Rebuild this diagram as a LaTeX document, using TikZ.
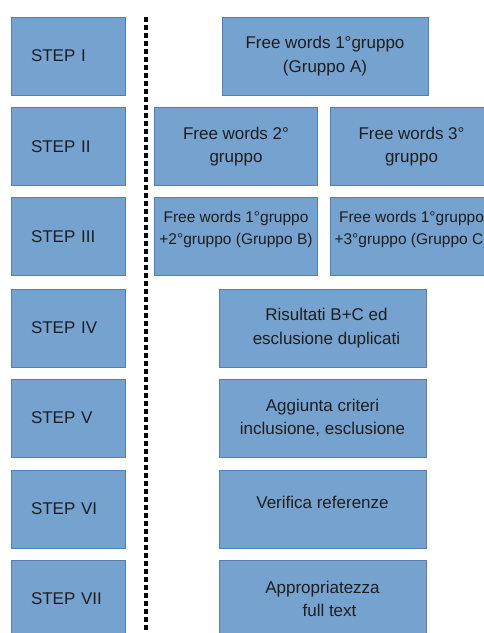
\documentclass[tikz,border=0pt]{standalone}
\usepackage{fontspec}
\setmainfont{Liberation Sans}
\definecolor{boxfill}{RGB}{117,162,207}
\definecolor{boxline}{RGB}{80,128,186}
\definecolor{boxtext}{RGB}{30,30,30}

\begin{document}
\begin{tikzpicture}[x=1pt, y=-1pt,
        every node/.style={draw=boxline, fill=boxfill, text=boxtext, line width=0.8pt, inner sep=0pt,
          minimum height=78pt, align=center, font=\fontsize{17}{23.5}\selectfont},
        stepnode/.style={minimum width=114pt, text width=74pt, align=left},
        widebox/.style={minimum width=207pt},
        halfbox/.style={minimum width=163pt},
        smalltext/.style={font=\fontsize{15.5}{22}\selectfont},
        textup/.style={text depth=#1}
      ]
      \useasboundingbox (0,0) rectangle (484,633);

      % steps on the left
      \node[stepnode] (s1) at (68,56)    {STEP I};
      \node[stepnode] (s2) at (68,146.5) {STEP II};
      \node[stepnode] (s3) at (68,236.5) {STEP III};
      \node[stepnode] (s4) at (68,328)   {STEP IV};
      \node[stepnode] (s5) at (68,418)   {STEP V};
      \node[stepnode] (s6) at (68,509)   {STEP VI};
      \node[stepnode] (s7) at (68,599)   {STEP VII};

      % separator
      \coordinate (sepTop) at (146,17);
      \coordinate (sepBot) at (146,633);
      \draw[line width=3.3pt, dash pattern=on 5pt off 3pt] (sepTop) -- (sepBot);

      % what is done at each step
      \node[widebox, minimum width=206pt] (grpA) at (325,56) {Free words 1°gruppo\\(Gruppo A)};
      \node[halfbox] (grp2) at (236,146.5) {Free words 2°\\gruppo};
      \node[halfbox] (grp3) at (411.5,146.5) {Free words 3°\\gruppo};
      \node[halfbox, smalltext, textup=17pt] (grpB) at (236,236.5) {Free words 1°gruppo\\+2°gruppo (Gruppo B)};
      \node[halfbox, smalltext, textup=17pt] (grpC) at (411.5,236.5) {Free words 1°gruppo\\+3°gruppo (Gruppo C)};
      \node[widebox] (risultati) at (322.5,328) {\hspace*{8pt}Risultati B+C ed\\\hspace*{8pt}esclusione duplicati};
      \node[widebox] (criteri) at (322.5,418) {Aggiunta criteri\\inclusione, esclusione};
      \node[widebox, textup=14pt] (referenze) at (322.5,509) {Verifica referenze};
      \node[widebox] (fulltext) at (322.5,599) {Appropriatezza\\\hspace*{14pt}full text};

\end{tikzpicture}
\end{document}
